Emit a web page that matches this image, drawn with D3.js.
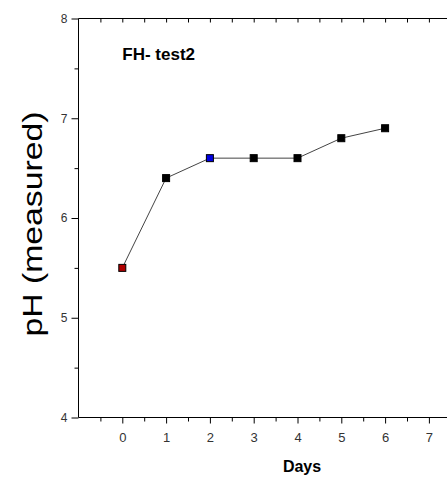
<!DOCTYPE html>
<html>
<head>
<meta charset="utf-8">
<script src="https://cdn.jsdelivr.net/npm/d3@7"></script>
<style>
  html, body { margin: 0; padding: 0; background: #fff; }
  svg { display: block; }
  .tick text { font-family: "Liberation Sans", Arial, sans-serif; fill: #333; }
</style>
</head>
<body>
<svg id="chart" width="447" height="480"></svg>
<script>
// pH readings over the test period
const days = [0, 1, 2, 3, 4, 5, 6];
const phValues = [5.5, 6.4, 6.6, 6.6, 6.6, 6.8, 6.9];
const markerFills = ["#b00000", "#000", "#0000e0", "#000", "#000", "#000", "#000"];
const xTickValues = [0, 1, 2, 3, 4, 5, 6, 7];
const yTickValues = [4, 5, 6, 7, 8];
const chartTitle = "FH- test2";
const xTitle = "Days";
const yTitle = "pH (measured)";

const svg = d3.select("#chart");
const W = 447, H = 480;
const plotLeft = 78.5, plotTop = 18.5, plotBottom = 417.5;

const x = d3.scaleLinear().domain([-1, 8]).range([plotLeft, plotLeft + 9 * 43.8]);
const y = d3.scaleLinear().domain([4, 8]).range([plotBottom, plotTop]);

const font = '"Liberation Sans", Arial, sans-serif';

// minor ticks every half unit
const xMinor = d3.range(-0.5, 8, 1);
const yMinor = d3.range(4.5, 8, 1);

// bottom axis
const gb = svg.append("g").attr("transform", `translate(0,${plotBottom})`);
gb.call(d3.axisBottom(x).tickValues(xTickValues).tickFormat(d3.format("d"))
    .tickSize(6).tickPadding(9).tickSizeOuter(0))
  .call(g => g.select(".domain").remove())
  .selectAll("text").style("font-size", "13px");
gb.append("g").call(d3.axisBottom(x).tickValues(xMinor).tickSize(4).tickFormat(""))
  .call(g => g.select(".domain").remove());
gb.append("line").attr("x1", plotLeft).attr("x2", W).attr("stroke", "#000");

// left axis
const gl = svg.append("g").attr("transform", `translate(${plotLeft},0)`);
gl.call(d3.axisLeft(y).tickValues(yTickValues).tickFormat(d3.format("d"))
    .tickSize(7).tickPadding(4).tickSizeOuter(0))
  .call(g => g.select(".domain").remove())
  .selectAll("text").style("font-size", "12px");
gl.append("g").call(d3.axisLeft(y).tickValues(yMinor).tickSize(4).tickFormat(""))
  .call(g => g.select(".domain").remove());
gl.append("line").attr("y1", plotTop).attr("y2", plotBottom).attr("stroke", "#000");

// top axis with inward ticks
const gt = svg.append("g").attr("transform", `translate(0,${plotTop})`);
gt.call(d3.axisBottom(x).tickValues(d3.range(-0.5, 8.5, 0.5)).tickSize(4).tickFormat(""))
  .call(g => g.select(".domain").remove());
gt.append("line").attr("x1", plotLeft).attr("x2", W).attr("stroke", "#000");

svg.selectAll(".tick line").attr("stroke", "#000");

// data line
const pts = days.map((d, i) => ({ day: d, ph: phValues[i], fill: markerFills[i] }));
svg.append("path")
  .datum(pts)
  .attr("fill", "none")
  .attr("stroke", "#444")
  .attr("stroke-width", 1)
  .attr("d", d3.line().x(d => x(d.day)).y(d => y(d.ph)));

// square markers
const ms = 7;
svg.selectAll("rect.marker")
  .data(pts)
  .join("rect")
  .attr("class", "marker")
  .attr("x", d => x(d.day) - ms / 2)
  .attr("y", d => y(d.ph) - ms / 2)
  .attr("width", ms)
  .attr("height", ms)
  .attr("fill", d => d.fill)
  .attr("stroke", "#000")
  .attr("stroke-width", 1);

// chart title
svg.append("text")
  .attr("x", x(0))
  .attr("y", 60)
  .attr("font-family", font)
  .attr("font-weight", "bold")
  .attr("font-size", 17)
  .text(chartTitle);

// x axis title
svg.append("text")
  .attr("x", 302)
  .attr("y", 472)
  .attr("text-anchor", "middle")
  .attr("font-family", font)
  .attr("font-weight", "bold")
  .attr("font-size", 16)
  .text(xTitle);

// y axis title
svg.append("text")
  .attr("transform", "translate(42,224) rotate(-90)")
  .attr("text-anchor", "middle")
  .attr("font-family", font)
  .attr("font-size", 28)
  .attr("textLength", 225)
  .attr("lengthAdjust", "spacingAndGlyphs")
  .text(yTitle);
</script>
</body>
</html>
